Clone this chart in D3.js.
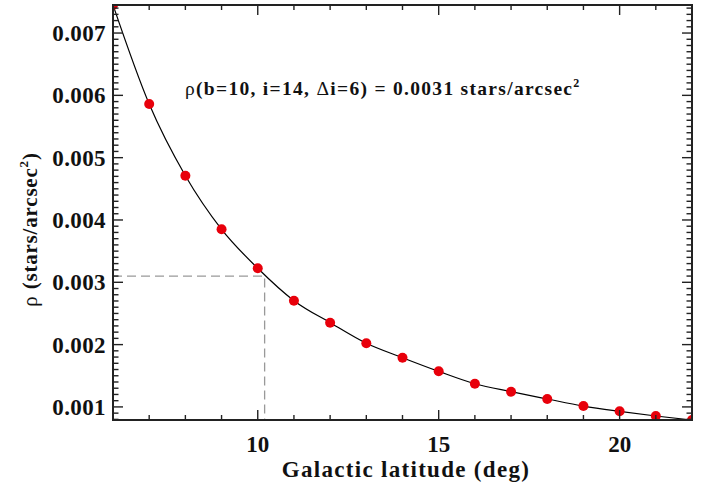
<!DOCTYPE html>
<html><head><meta charset="utf-8">
<script src="https://cdn.jsdelivr.net/npm/d3@7"></script>
<style>
html,body{margin:0;padding:0;background:#fff;}
text{font-family:"Liberation Serif","Times New Roman",serif;fill:#111;}
</style></head>
<body><div id="chart"></div>
<script>
// Data
const latitude = [6,7,8,9,10,11,12,13,14,15,16,17,18,19,20,21,22];
const density = [0.00745,0.00586,0.00471,0.00385,0.003225,0.002705,0.002352,0.002021,0.00179,0.001571,0.001372,0.001244,0.001127,0.001014,0.000929,0.000854,0.00079];
const xMajorTicks = [10,15,20];
const yMajorTicks = [0.001,0.002,0.003,0.004,0.005,0.006,0.007];
const yTickLabels = ["0.001","0.002","0.003","0.004","0.005","0.006","0.007"];
const markerB = 10.19, markerRho = 0.0031;

const W=712,H=485;
const L=113,R=692,T=5,B=420;
const svg=d3.select("#chart").append("svg").attr("width",W).attr("height",H);

const x=d3.scaleLinear().domain([6,22]).range([L,R]);
const y=d3.scaleLinear().domain([d3.min(density),d3.max(density)]).range([B,T]);

svg.append("defs").append("clipPath").attr("id","clip")
  .append("rect").attr("x",L).attr("y",T).attr("width",R-L).attr("height",B-T);

const g=svg.append("g").attr("clip-path","url(#clip)");

// dashed guide lines
g.append("path")
  .attr("d",`M${x(6)},${y(markerRho)}H${x(markerB)}V${y(d3.min(density))}`)
  .attr("fill","none").attr("stroke","#999").attr("stroke-width",1.3)
  .attr("stroke-dasharray","9,5");

// curve
const line=d3.line().x((d,i)=>x(latitude[i])).y(d=>y(d)).curve(d3.curveMonotoneX);
g.append("path").datum(density).attr("d",line)
  .attr("fill","none").attr("stroke","#000").attr("stroke-width",1.2);

// points
g.selectAll("circle").data(density).enter().append("circle")
  .attr("cx",(d,i)=>x(latitude[i])).attr("cy",d=>y(d)).attr("r",5)
  .attr("fill","#e8000b");

// axes ticks
const axisColor="#222";
const minorX=d3.range(6,23,1).filter(v=>!xMajorTicks.includes(v));
const yMinor=d3.range(1,75).map(k=>k/10000).filter(v=>v>=y.domain()[0]&&v<=y.domain()[1]&&Math.abs(v*1000-Math.round(v*1000))>1e-6);

const tk=svg.append("g").attr("stroke",axisColor).attr("stroke-width",1.4);
function xt(v,len){
  tk.append("line").attr("x1",x(v)).attr("x2",x(v)).attr("y1",B).attr("y2",B-len);
  tk.append("line").attr("x1",x(v)).attr("x2",x(v)).attr("y1",T).attr("y2",T+len);
}
function yt(v,len){
  tk.append("line").attr("y1",y(v)).attr("y2",y(v)).attr("x1",L).attr("x2",L+len);
  tk.append("line").attr("y1",y(v)).attr("y2",y(v)).attr("x1",R).attr("x2",R-len);
}
xMajorTicks.forEach(v=>xt(v,10));
minorX.forEach(v=>xt(v,5));
yMajorTicks.forEach(v=>yt(v,10));
yMinor.forEach(v=>yt(v,5.5));

svg.append("rect").attr("x",L).attr("y",T).attr("width",R-L).attr("height",B-T)
  .attr("fill","none").attr("stroke",axisColor).attr("stroke-width",2);

// tick labels
svg.selectAll(".xl").data(xMajorTicks).enter().append("text")
  .attr("x",d=>x(d)).attr("y",452).attr("text-anchor","middle")
  .attr("font-size",23).attr("font-weight","bold").text(d=>d);
svg.selectAll(".yl").data(yMajorTicks).enter().append("text")
  .attr("x",106).attr("y",d=>y(d)).attr("dy","0.35em").attr("text-anchor","end")
  .attr("font-size",23).attr("font-weight","bold").attr("letter-spacing",0.4).text((d,i)=>yTickLabels[i]);

// axis titles
svg.append("text").attr("x",406).attr("y",477).attr("text-anchor","middle")
  .attr("font-size",23).attr("font-weight","bold").attr("letter-spacing",1.3).text("Galactic latitude (deg)");

const yl=svg.append("text").attr("transform","translate(37,229.5) rotate(-90)")
  .attr("text-anchor","middle").attr("font-size",21).attr("font-weight","bold").attr("letter-spacing",0.8);
yl.append("tspan").attr("font-weight","normal").text("ρ ");
yl.append("tspan").text("(stars/arcsec");
yl.append("tspan").attr("font-size",13).attr("dy",-9).text("2");
yl.append("tspan").attr("dy",9).text(")");

// annotation
const an=svg.append("text").attr("x",185).attr("y",95).attr("font-size",19.5).attr("font-weight","bold").attr("letter-spacing",1.3);
an.append("tspan").attr("font-weight","normal").text("ρ");
an.append("tspan").text("(b=10, i=14, ");
an.append("tspan").attr("font-weight","normal").text("Δ");
an.append("tspan").text("i=6) = 0.0031 stars/arcsec");
an.append("tspan").attr("font-size",12).attr("dy",-8).text("2");
</script></body></html>
